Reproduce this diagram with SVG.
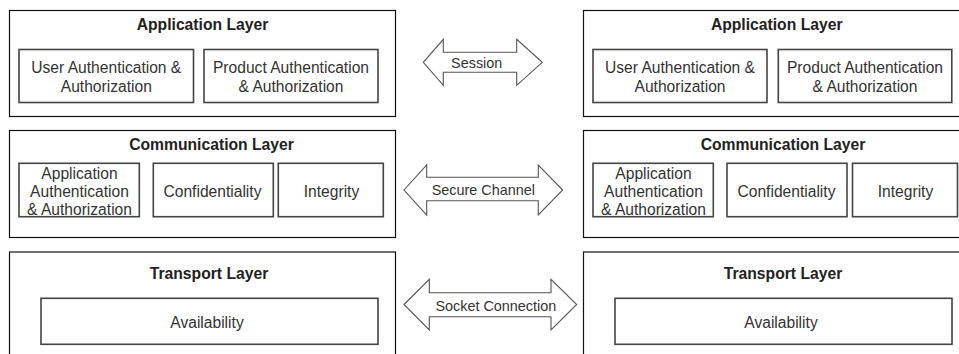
<svg xmlns="http://www.w3.org/2000/svg" width="959" height="354" viewBox="0 0 959 354">
<style>
.outer{fill:#fff;stroke:#111;stroke-width:1.2}
.inner{fill:#fff;stroke:#444;stroke-width:1.6}
.arrow{fill:#fff;stroke:#555;stroke-width:1.1}
.title{font-family:"Liberation Sans",Arial,sans-serif;font-size:15.7px;font-weight:bold;fill:#222;text-anchor:middle}
.t{font-family:"Liberation Sans",Arial,sans-serif;font-size:15.6px;fill:#333;text-anchor:middle}
.lbl{font-family:"Liberation Sans",Arial,sans-serif;font-size:14.4px;fill:#333;text-anchor:middle}
</style>
<rect width="959" height="354" fill="#fff"/>
<g id="left-application-layer">
<rect class="outer" x="9.5" y="10.5" width="386" height="106"/>
<text class="title" x="202.5" y="29.5">Application Layer</text>
<g id="left-user-auth">
<rect class="inner" x="19" y="49.5" width="174.5" height="53"/>
<text class="t" x="106.3" y="73">User Authentication &amp;</text>
<text class="t" x="106.3" y="92">Authorization</text>
</g>
<g id="left-product-auth">
<rect class="inner" x="204" y="49.5" width="174" height="53"/>
<text class="t" x="291" y="73">Product Authentication</text>
<text class="t" x="291" y="92">&amp; Authorization</text>
</g>
</g>
<g id="left-communication-layer">
<rect class="outer" x="9.5" y="130.5" width="386" height="107"/>
<text class="title" x="211.5" y="150">Communication Layer</text>
<g id="left-app-auth">
<rect class="inner" x="19" y="163.3" width="120.3" height="53.4"/>
<text class="t" x="79.5" y="178.6">Application</text>
<text class="t" x="79.5" y="197">Authentication</text>
<text class="t" x="79.5" y="215">&amp; Authorization</text>
</g>
<g id="left-confidentiality">
<rect class="inner" x="153.3" y="163.3" width="120" height="53.4"/>
<text class="t" x="212.5" y="196.5">Confidentiality</text>
</g>
<g id="left-integrity">
<rect class="inner" x="278.3" y="163.3" width="105" height="53.4"/>
<text class="t" x="331.5" y="196.5">Integrity</text>
</g>
</g>
<g id="left-transport-layer">
<rect class="outer" x="9.5" y="252" width="386" height="110"/>
<text class="title" x="209" y="279.3">Transport Layer</text>
<g id="left-availability">
<rect class="inner" x="41" y="298.3" width="337" height="46"/>
<text class="t" x="207" y="328.3">Availability</text>
</g>
</g>
<g id="right-application-layer">
<rect class="outer" x="583.5" y="10.5" width="386" height="106"/>
<text class="title" x="776.7" y="29.5">Application Layer</text>
<g id="right-user-auth">
<rect class="inner" x="593" y="49.5" width="174" height="53"/>
<text class="t" x="680" y="73">User Authentication &amp;</text>
<text class="t" x="680" y="92">Authorization</text>
</g>
<g id="right-product-auth">
<rect class="inner" x="778.3" y="49.5" width="173.5" height="53"/>
<text class="t" x="865" y="73">Product Authentication</text>
<text class="t" x="865" y="92">&amp; Authorization</text>
</g>
</g>
<g id="right-communication-layer">
<rect class="outer" x="583.5" y="130.5" width="386" height="107"/>
<text class="title" x="783" y="150">Communication Layer</text>
<g id="right-app-auth">
<rect class="inner" x="593" y="163.3" width="120.3" height="53.4"/>
<text class="t" x="653.5" y="178.6">Application</text>
<text class="t" x="653.5" y="197">Authentication</text>
<text class="t" x="653.5" y="215">&amp; Authorization</text>
</g>
<g id="right-confidentiality">
<rect class="inner" x="727" y="163.3" width="120" height="53.4"/>
<text class="t" x="786.5" y="196.5">Confidentiality</text>
</g>
<g id="right-integrity">
<rect class="inner" x="852.5" y="163.3" width="105" height="53.4"/>
<text class="t" x="905.5" y="196.5">Integrity</text>
</g>
</g>
<g id="right-transport-layer">
<rect class="outer" x="583.5" y="252" width="386" height="110"/>
<text class="title" x="783" y="279.3">Transport Layer</text>
<g id="right-availability">
<rect class="inner" x="615" y="298.3" width="337" height="46"/>
<text class="t" x="781" y="328.3">Availability</text>
</g>
</g>
<g id="connectors">
<g id="session">
<path class="arrow" d="M423.3,62.3 L443.3,39.3 L443.3,52.3 L516.7,52.3 L516.7,39.3 L542.3,62.3 L516.7,85.3 L516.7,72.3 L443.3,72.3 L443.3,85.3 Z"/>
<text class="lbl" x="476.7" y="68">Session</text>
</g>
<g id="secure-channel">
<path class="arrow" d="M404,190 L426.7,165 L426.7,177.3 L538.3,177.3 L538.3,165 L562.7,190 L538.3,215 L538.3,200.7 L426.7,200.7 L426.7,215 Z"/>
<text class="lbl" x="483.3" y="195">Secure Channel</text>
</g>
<g id="socket-connection">
<path class="arrow" d="M404,304.5 L429.3,279.3 L429.3,292.7 L551,292.7 L551,279.3 L576.7,304.5 L551,330 L551,316.7 L429.3,316.7 L429.3,330 Z"/>
<text class="lbl" x="495.8" y="310.5">Socket Connection</text>
</g>
</g>
</svg>
